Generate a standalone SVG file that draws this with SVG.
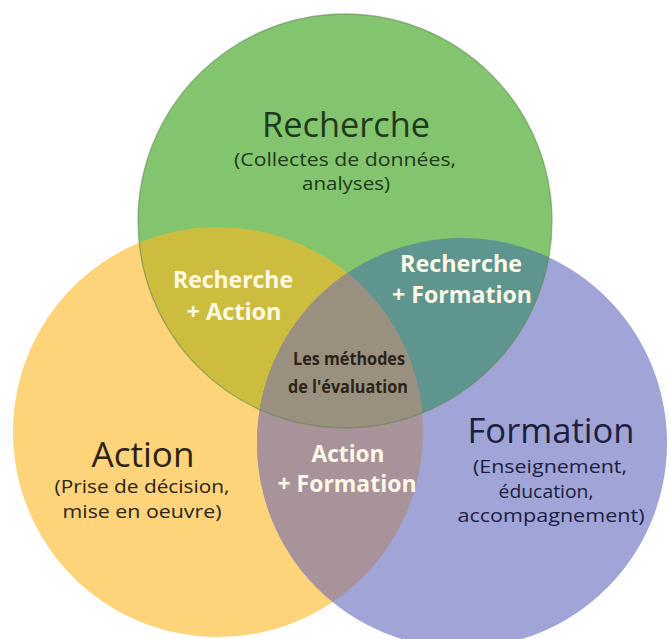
<svg xmlns="http://www.w3.org/2000/svg" width="669" height="639" viewBox="0 0 669 639">
  <style>
    .t { font-family: "Open Sans", "Liberation Sans", sans-serif; text-anchor: middle; }
    .big { font-size: 34px; }
    .sub { font-size: 19px; }
    .wb { font-size: 23px; font-weight: bold; fill: #fdf9e6; }
    .cb { font-size: 17px; font-weight: bold; fill: #2a2418; }
    .rc { fill: #1f3a1b; }
    .ac { fill: #2e2210; }
    .fc { fill: #1d2040; }
  </style>
  <defs>
    <clipPath id="clipG"><circle cx="345" cy="221" r="207"/></clipPath>
    <clipPath id="clipY"><circle cx="218" cy="432" r="205"/></clipPath>
  </defs>
  <rect width="669" height="639" fill="#ffffff"/>

  <g id="node-action">
    <circle cx="218" cy="432" r="205" fill="#fed47a"/>
  </g>
  <g id="node-formation">
    <circle cx="462" cy="443" r="205" fill="#a0a4d7"/>
  </g>
  <g id="node-recherche">
    <circle cx="345" cy="221" r="207" fill="#83c46e"/>
  </g>
  <g id="node-recherche-action">
    <circle cx="218" cy="432" r="205" fill="#cdbd3f" clip-path="url(#clipG)"/>
  </g>
  <g id="node-recherche-formation">
    <circle cx="462" cy="443" r="205" fill="#5f958f" clip-path="url(#clipG)"/>
  </g>
  <g id="node-action-formation">
    <circle cx="462" cy="443" r="205" fill="#a8939a" clip-path="url(#clipY)"/>
  </g>
  <g id="node-evaluation">
    <g clip-path="url(#clipG)">
      <circle cx="462" cy="443" r="205" fill="#9a9080" clip-path="url(#clipY)"/>
    </g>
  </g>
  <circle cx="345" cy="221" r="207" fill="none" stroke="#5e8650" stroke-opacity="0.55" stroke-width="1.3"/>

  <g id="connectors"/>

  <g id="labels">
    <text class="t big rc" x="346" y="137" textLength="168" lengthAdjust="spacingAndGlyphs">Recherche</text>
    <text class="t sub rc" x="345" y="166" textLength="222" lengthAdjust="spacingAndGlyphs">(Collectes de données,</text>
    <text class="t sub rc" x="346" y="190" textLength="88" lengthAdjust="spacingAndGlyphs">analyses)</text>

    <text class="t wb" x="233" y="288" textLength="120" lengthAdjust="spacingAndGlyphs">Recherche</text>
    <text class="t wb" x="234" y="320" textLength="95" lengthAdjust="spacingAndGlyphs">+ Action</text>

    <text class="t wb" x="461" y="272" textLength="122" lengthAdjust="spacingAndGlyphs">Recherche</text>
    <text class="t wb" x="462" y="303" textLength="140" lengthAdjust="spacingAndGlyphs">+ Formation</text>

    <text class="t cb" x="349" y="365" textLength="112" lengthAdjust="spacingAndGlyphs">Les méthodes</text>
    <text class="t cb" x="348" y="393" textLength="120" lengthAdjust="spacingAndGlyphs">de l'évaluation</text>

    <text class="t wb" x="348" y="462" textLength="73" lengthAdjust="spacingAndGlyphs">Action</text>
    <text class="t wb" x="347" y="492" textLength="139" lengthAdjust="spacingAndGlyphs">+ Formation</text>

    <text class="t big ac" x="143" y="467" textLength="103" lengthAdjust="spacingAndGlyphs">Action</text>
    <text class="t sub ac" x="142" y="493" textLength="175" lengthAdjust="spacingAndGlyphs">(Prise de décision,</text>
    <text class="t sub ac" x="142" y="518" textLength="159" lengthAdjust="spacingAndGlyphs">mise en oeuvre)</text>

    <text class="t big fc" x="551" y="443" textLength="167" lengthAdjust="spacingAndGlyphs">Formation</text>
    <text class="t sub fc" x="550" y="473" textLength="154" lengthAdjust="spacingAndGlyphs">(Enseignement,</text>
    <text class="t sub fc" x="546" y="498" textLength="95" lengthAdjust="spacingAndGlyphs">éducation,</text>
    <text class="t sub fc" x="551" y="522" textLength="187" lengthAdjust="spacingAndGlyphs">accompagnement)</text>
  </g>
</svg>
